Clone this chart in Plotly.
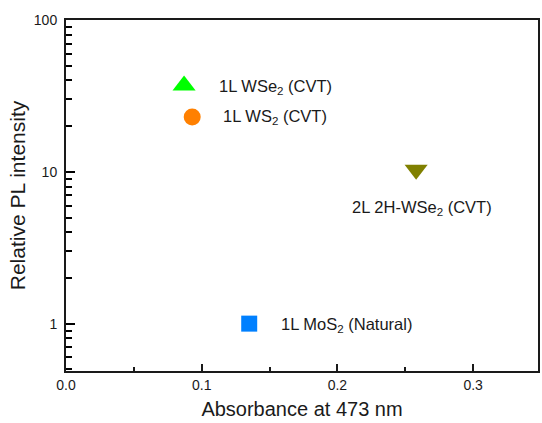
import math
import plotly.graph_objects as go

# Data
names = ["1L WSe<sub>2</sub> (CVT)", "1L WS<sub>2</sub> (CVT)",
         "2L 2H-WSe<sub>2</sub> (CVT)", "1L MoS<sub>2</sub> (Natural)"]
absorbance = [0.087, 0.093, 0.258, 0.135]
rel_pl = [37, 23, 10.3, 1.0]
symbols = ["triangle-up", "circle", "triangle-down", "square"]
colors = ["#00ff00", "#ff8000", "#808000", "#0080ff"]
sizes = [20, 17, 20, 16]
x_ticks = [0.0, 0.1, 0.2, 0.3]
x_tick_labels = ["0.0", "0.1", "0.2", "0.3"]
y_ticks = [1, 10, 100]
y_tick_labels = ["1", "10", "100"]

# minor log ticks: digits 2..9 of each decade shown
y_minor = [d * 10 ** e for e in (-1, 0, 1) for d in range(2, 10)]

# label offsets (px) relative to each point
label_style = [
    dict(xshift=33, yshift=-1, xanchor="left"),
    dict(xshift=29, yshift=0, xanchor="left"),
    dict(xshift=6, yshift=-38, xanchor="center"),
    dict(xshift=30, yshift=-1, xanchor="left"),
]

FONT = "Liberation Sans, Arial, sans-serif"
INK = "#1a1a1a"
Y_RANGE = [-0.312, 2.0]

fig = go.Figure()
for i in range(len(names)):
    fig.add_trace(go.Scatter(
        x=[absorbance[i]], y=[rel_pl[i]], mode="markers",
        marker=dict(symbol=symbols[i], color=colors[i], size=sizes[i],
                    line=dict(width=0)),
        showlegend=False, hoverinfo="skip"))
    fig.add_annotation(x=absorbance[i], y=math.log10(rel_pl[i]), text=names[i],
                       showarrow=False, font=dict(size=16.5, color=INK, family=FONT),
                       yanchor="middle", **label_style[i])

# invisible traces to activate the tick overlay axes
fig.add_trace(go.Scatter(x=[None], y=[None], yaxis="y2", showlegend=False, hoverinfo="skip"))
fig.add_trace(go.Scatter(x=[None], y=[None], yaxis="y3", showlegend=False, hoverinfo="skip"))

tick_axis = dict(type="log", range=Y_RANGE, overlaying="y", side="left", anchor="x",
                 tickmode="array", ticks="inside", tickwidth=2, tickcolor="#000000",
                 showline=False, showgrid=False, zeroline=False, showticklabels=False)

fig.update_layout(
    width=542, height=423,
    margin=dict(l=66, r=2, t=20, b=52),
    paper_bgcolor="white", plot_bgcolor="white",
    font=dict(family=FONT, color=INK),
    xaxis=dict(
        range=[0, 0.3478], tickvals=x_ticks, ticktext=x_tick_labels,
        ticks="inside", ticklen=7, tickwidth=1.5, tickcolor=INK,
        showline=True, linewidth=2, linecolor=INK, mirror=True,
        showgrid=False, zeroline=False,
        tickfont=dict(size=14),
        minor=dict(ticks="inside", ticklen=4, tickwidth=1.5, tickcolor=INK, dtick=0.05),
        title=dict(text="Absorbance at 473 nm", font=dict(size=20), standoff=10),
    ),
    yaxis=dict(
        type="log", range=Y_RANGE, tickmode="array",
        tickvals=y_ticks, ticktext=y_tick_labels, ticks="",
        ticklabelstandoff=4,
        showline=True, linewidth=2, linecolor=INK, mirror=True,
        showgrid=False, zeroline=False,
        tickfont=dict(size=14),
        title=dict(text="Relative PL intensity", font=dict(size=21), standoff=2),
    ),
    yaxis2=dict(tickvals=y_minor, ticklen=6, **tick_axis),
    yaxis3=dict(tickvals=y_ticks, ticklen=9, **tick_axis),
)

fig.write_html("out.html")
